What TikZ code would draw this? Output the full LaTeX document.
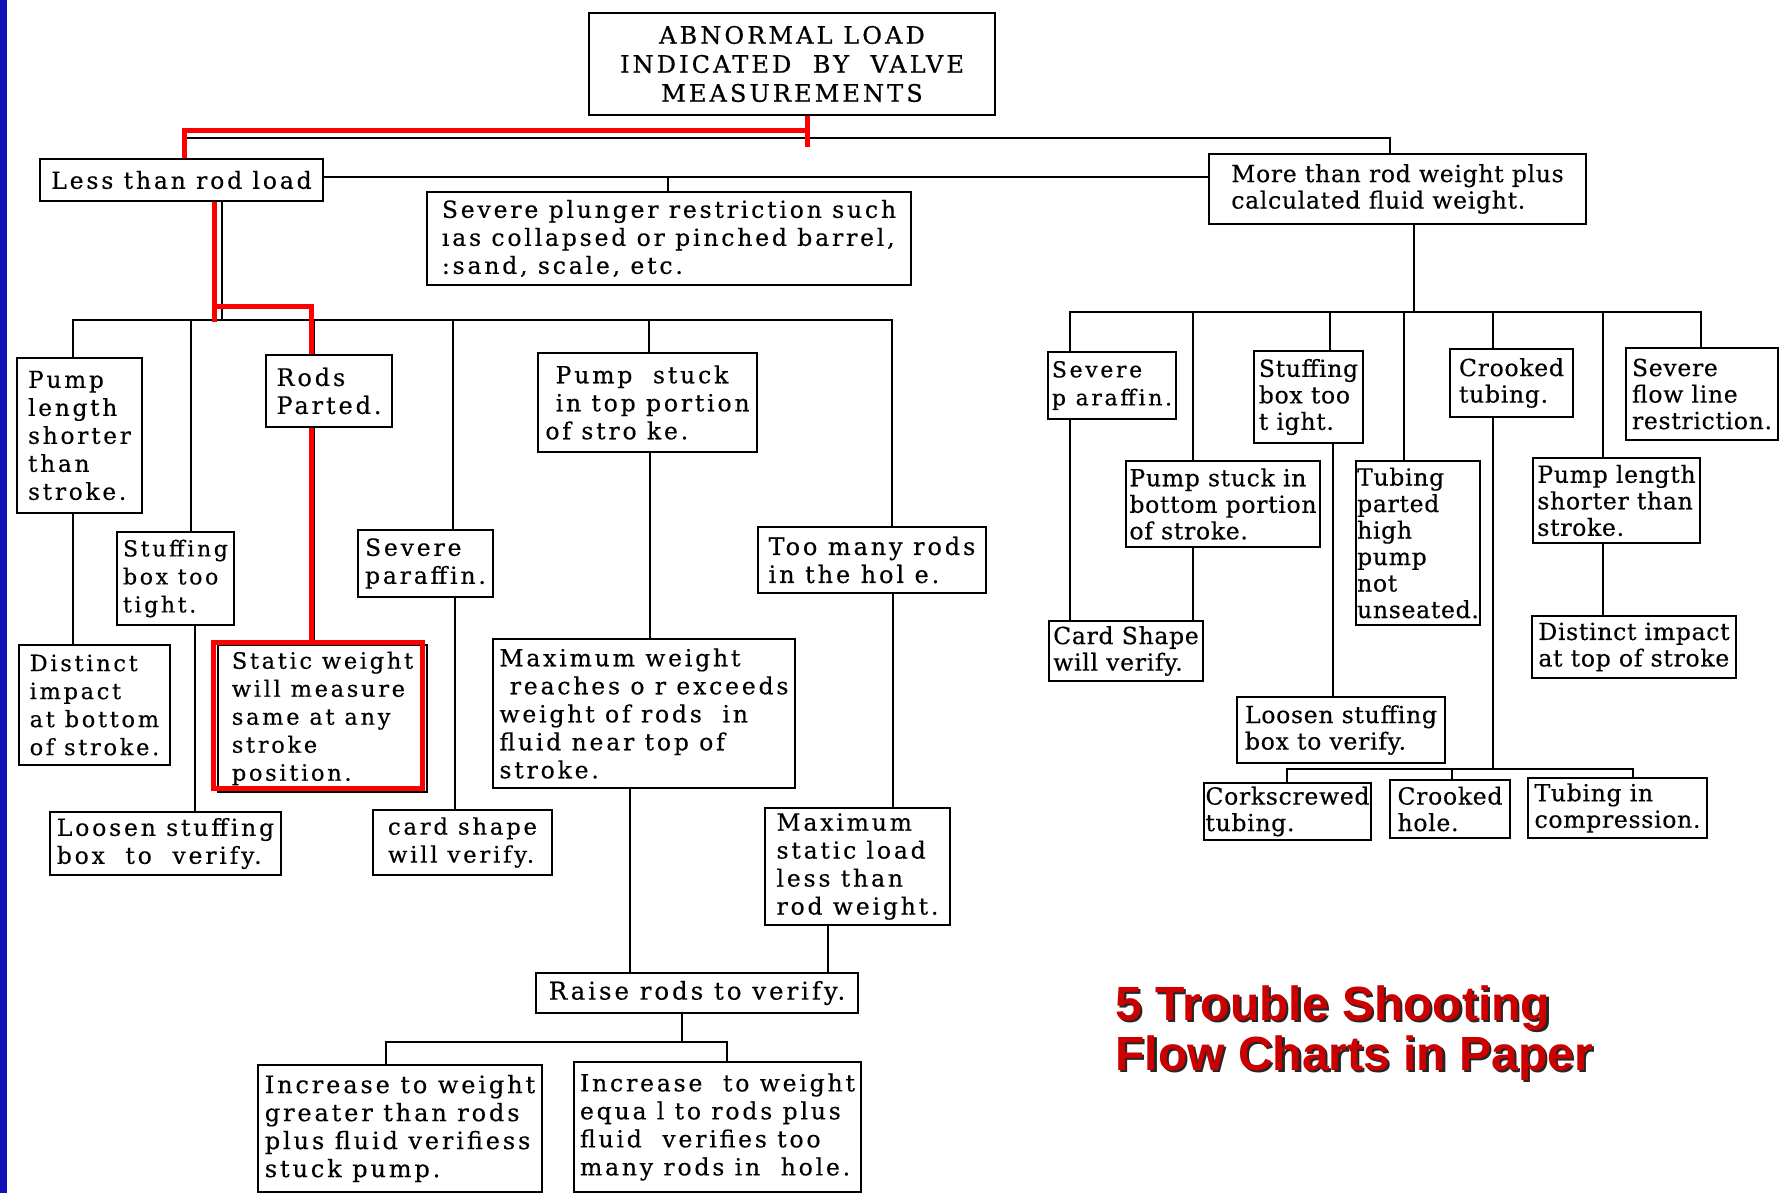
\documentclass[tikz,border=0pt]{standalone}
\usepackage{fontspec}
\newfontfamily\lsfont{DejaVu Serif}[LetterSpace=12,FakeBold=0.4]
\newfontfamily\rsfont{DejaVu Serif}[LetterSpace=3,FakeBold=0.4]
\newfontfamily\ttlfont{DejaVu Serif}[LetterSpace=13,FakeBold=0.6]
\newfontfamily\capfont{Liberation Sans}
\definecolor{slideblue}{RGB}{16,16,185}
\definecolor{hlred}{RGB}{255,0,0}
\definecolor{capred}{RGB}{204,0,0}
% box: [options]{name}{x1}{y1}{x2}{y2}{text}  (pixel coordinates, y downwards)
\newcommand{\bbox}[7][]{%
  \pgfmathsetmacro{\bbw}{(#5-#3)*0.5}%
  \pgfmathsetmacro{\bbh}{(#6-#4)*0.5}%
  \node[bx, minimum width=\bbw pt, minimum height=\bbh pt, #1] (#2) at ({(#3+#5)/2},{(#4+#6)/2}) {#7};%
}
\begin{document}
\begin{tikzpicture}[x=0.5pt,y=-0.5pt,
  bx/.style={draw, line width=1.45pt, inner sep=0pt, align=left,
    font=\lsfont\fontsize{11.75}{14}\selectfont},
  rt/.style={font=\rsfont\fontsize{11.75}{13.25}\selectfont},
  fs/.style={font=\lsfont\fontsize{#1}{14}\selectfont},
  ln/.style={line width=1.1pt},
  hl/.style={draw=hlred, line width=2.5pt},
  captxt/.style={font=\capfont\bfseries\fontsize{24}{25}\selectfont, anchor=base west, inner sep=0pt},
]
\useasboundingbox (0,0) rectangle (1782,1193);
\fill[white] (0,0) rectangle (1782,1193);
\fill[slideblue] (0,0) rectangle (7,1193);

% ---------- boxes ----------
\bbox[align=center, font=\ttlfont\fontsize{12}{14.5}\selectfont]{title}{589}{13}{995}{115}{ABNORMAL LOAD\\INDICATED\ \ BY\ \ VALVE\\MEASUREMENTS}
\bbox{less}{40}{159}{323}{201}{Less than rod load}
\bbox[fs=11.75]{plunger}{427}{192}{911}{285}{Severe plunger restriction such\\ıas collapsed or pinched barrel,\\:sand, scale, etc.}
\bbox[rt]{more}{1209}{154}{1586}{224}{More than rod weight plus\\calculated fluid weight.}

\bbox[fs=11.6]{pumpL}{17}{358}{142}{513}{Pump\\length\\shorter\\than\\stroke.}
\bbox[fs=12]{rods}{266}{355}{392}{427}{Rods\\Parted.}
\bbox{pstuckT}{538}{353}{757}{452}{\ Pump\ \ stuck\\\ in top portion\\of stro ke.}
\bbox[fs=11]{stuffL}{117}{532}{234}{625}{Stuffing\\box too\\tight.}
\bbox{parL}{358}{530}{493}{597}{Severe\\paraffin.}
\bbox[fs=12]{toomany}{758}{527}{986}{593}{Too many rods\\in the hol e.}
\bbox[fs=11.25]{distL}{19}{645}{170}{765}{Distinct\\impact\\at bottom\\of stroke.}
\bbox[fs=11.25]{static}{218}{645}{427}{792}{Static weight\\will measure\\same at any\\stroke\\position.}
\bbox{maxw}{493}{639}{795}{788}{Maximum weight\\\ reaches o r exceeds\\weight of rods\ \ in\\fluid near top of\\stroke.}
\bbox{loosenL}{50}{812}{281}{875}{Loosen stuffing\\box\ \ to\ \ verify.}
\bbox[fs=11.4]{cardL}{373}{810}{552}{875}{card shape\\will verify.}
\bbox{maxstat}{765}{808}{950}{925}{Maximum\\static load\\less than\\rod weight.}
\bbox[fs=12.25]{raise}{536}{973}{858}{1013}{Raise rods to verify.}
\bbox[fs=12]{incA}{258}{1065}{542}{1192}{Increase to weight\\greater than rods\\plus fluid verifiess\\stuck pump.}
\bbox{incB}{574}{1062}{861}{1192}{Increase\ \ to weight\\equa l to rods plus\\fluid\ \ verifies too\\many rods in\ \ hole.}

\bbox[fs=11]{parR}{1048}{352}{1176}{419}{Severe\\p araffin.}
\bbox[rt]{stuffR}{1254}{351}{1363}{443}{Stuffing\\box too\\t ight.}
\bbox[rt]{crookT}{1450}{349}{1573}{417}{Crooked\\tubing.}
\bbox[rt]{flow}{1626}{348}{1778}{440}{Severe\\flow line\\restriction.}
\bbox[rt]{pstuckB}{1126}{461}{1320}{547}{Pump stuck in\\bottom portion\\of stroke.}
\bbox[rt]{tubpart}{1356}{461}{1480}{625}{Tubing\\parted\\high\\pump\\not\\unseated.}
\bbox[rt]{plenR}{1533}{458}{1700}{543}{Pump length\\shorter than\\stroke.}
\bbox[rt]{cardR}{1049}{621}{1203}{681}{Card Shape\\will verify.}
\bbox[rt]{distR}{1532}{616}{1736}{678}{Distinct impact\\at top of stroke}
\bbox[rt]{loosenR}{1237}{697}{1445}{763}{Loosen stuffing\\box to verify.}
\bbox[rt]{cork}{1204}{783}{1371}{840}{Corkscrewed\\tubing.}
\bbox[rt]{crookH}{1390}{780}{1510}{838}{Crooked\\hole.}
\bbox[rt]{tubcomp}{1528}{778}{1707}{838}{Tubing in\\compression.}

% ---------- column / row coordinates ----------
\foreach \xx in {73,184,191,195,214,222,311,314,386,453,455,630,649,650,668,682,727,807,828,892,893,
  1070,1193,1287,1330,1333,1390,1404,1414,1452,1493,1603,1633,1701}
  {\coordinate (x\xx) at (\xx,0);}
\coordinate (yT) at (0,138);
\coordinate (yM) at (0,177);
\coordinate (yL) at (0,320);
\coordinate (yR) at (0,312);
\coordinate (yRaise) at (0,1042);
\coordinate (yC) at (0,769);

% ---------- black connectors ----------
\draw[ln] (title.south -| x807) -- (x807 |- yT);
\draw[ln] (less.north -| x184) -- (x184 |- yT) -- (x1390 |- yT) -- (more.north -| x1390);
\draw[ln] (less.east |- yM) -- (more.west |- yM);
\draw[ln] (x668 |- yM) -- (plunger.north -| x668);

\draw[ln] (less.south -| x222) -- (x222 |- yL);
\draw[ln] (pumpL.north -| x73) -- (x73 |- yL) -- (x892 |- yL) -- (toomany.north -| x892);
\draw[ln] (x191 |- yL) -- (stuffL.north -| x191);
\draw[ln] (x314 |- yL) -- (rods.north -| x314);
\draw[ln] (x453 |- yL) -- (parL.north -| x453);
\draw[ln] (x649 |- yL) -- (pstuckT.north -| x649);
\draw[ln] (pumpL.south -| x73) -- (distL.north -| x73);
\draw[ln] (stuffL.south -| x195) -- (loosenL.north -| x195);
\draw[ln] (rods.south -| x314) -- (static.north -| x314);
\draw[ln] (parL.south -| x455) -- (cardL.north -| x455);
\draw[ln] (pstuckT.south -| x650) -- (maxw.north -| x650);
\draw[ln] (toomany.south -| x893) -- (maxstat.north -| x893);
\draw[ln] (maxw.south -| x630) -- (raise.north -| x630);
\draw[ln] (maxstat.south -| x828) -- (raise.north -| x828);
\draw[ln] (raise.south -| x682) -- (x682 |- yRaise);
\draw[ln] (incA.north -| x386) -- (x386 |- yRaise) -- (x727 |- yRaise) -- (incB.north -| x727);

\draw[ln] (more.south -| x1414) -- (x1414 |- yR);
\draw[ln] (parR.north -| x1070) -- (x1070 |- yR) -- (x1701 |- yR) -- (flow.north -| x1701);
\draw[ln] (x1193 |- yR) -- (pstuckB.north -| x1193);
\draw[ln] (x1330 |- yR) -- (stuffR.north -| x1330);
\draw[ln] (x1404 |- yR) -- (tubpart.north -| x1404);
\draw[ln] (x1493 |- yR) -- (crookT.north -| x1493);
\draw[ln] (x1603 |- yR) -- (plenR.north -| x1603);
\draw[ln] (parR.south -| x1070) -- (cardR.north -| x1070);
\draw[ln] (pstuckB.south -| x1193) -- (cardR.north -| x1193);
\draw[ln] (stuffR.south -| x1333) -- (loosenR.north -| x1333);
\draw[ln] (plenR.south -| x1603) -- (distR.north -| x1603);
\draw[ln] (crookT.south -| x1493) -- (x1493 |- yC);
\draw[ln] (cork.north -| x1287) -- (x1287 |- yC) -- (x1633 |- yC) -- (tubcomp.north -| x1633);
\draw[ln] (x1452 |- yC) -- (crookH.north -| x1452);

% ---------- red highlight ----------
\draw[hl] (title.south -| x807) -- (807,147);
\draw[hl] (807,131) -- (184,131) -- (less.north -| x184);
\draw[hl] (less.south -| x214) -- (214,322);
\draw[hl] (214,306) -- (311,306) -- (rods.north -| x311);
\draw[hl] (rods.south -| x311) -- (311,644);
\draw[hl] ([shift={(-3,-1)}]static.north west) rectangle ([shift={(-6,-5)}]static.south east);

% ---------- caption ----------
\node[captxt, text=black!85] (cap1s) at (1117.5,1022.5) {5 Trouble Shooting};
\node[captxt, text=capred] (cap1) at (1115,1020) {5 Trouble Shooting};
\node[captxt, text=black!85] (cap2s) at (1117.5,1072.5) {Flow Charts in Paper};
\node[captxt, text=capred] (cap2) at (1115,1070) {Flow Charts in Paper};
\end{tikzpicture}
\end{document}
